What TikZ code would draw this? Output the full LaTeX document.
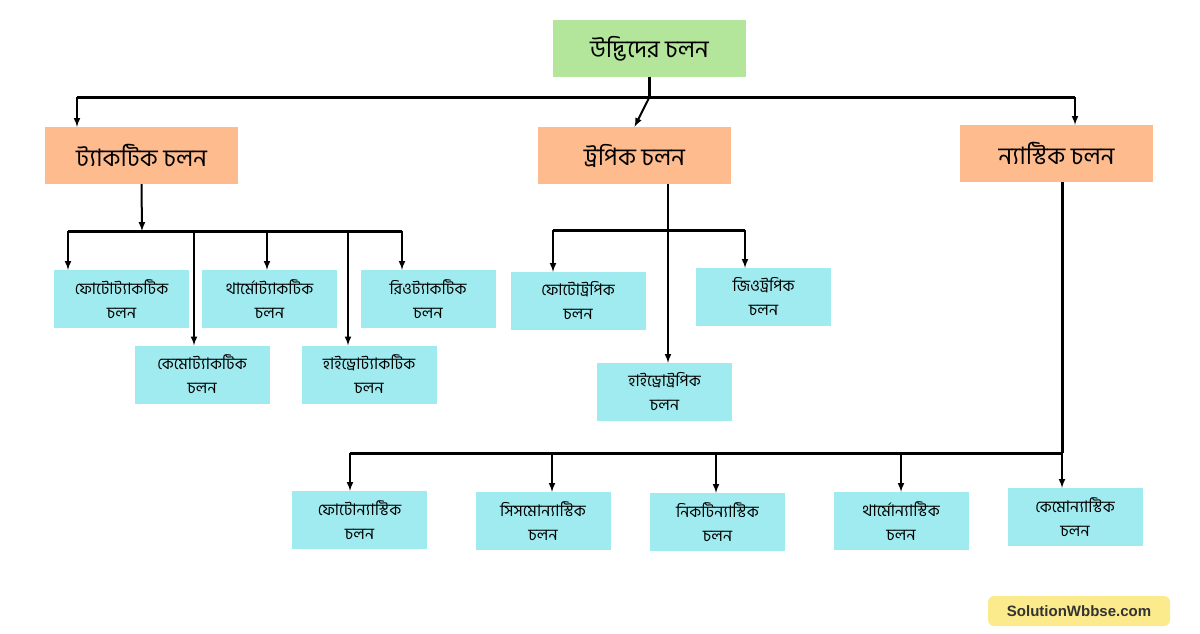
\documentclass[tikz,border=0pt]{standalone}
\usepackage{fontspec}
\newfontfamily\bn[Script=Bengali]{Hind Siliguri}
\setmainfont{Liberation Sans}
\usetikzlibrary{arrows, calc}

\definecolor{rootgreen}{HTML}{B3E59A}
\definecolor{peach}{HTML}{FDBB8E}
\definecolor{aqua}{HTML}{A0EBEF}
\definecolor{wmyellow}{HTML}{FBEB8C}

\tikzset{
  rootbox/.style={fill=rootgreen, minimum width=193pt, minimum height=57pt, font=\bn\fontsize{24}{28}\selectfont},
  kindbox/.style={fill=peach, minimum width=193pt, minimum height=57pt, font=\bn\fontsize{24}{28}\selectfont},
  leafbox/.style={fill=aqua, minimum width=135pt, minimum height=58pt, align=center, font=\bn\fontsize{16}{24}\selectfont},
  link/.style={line width=3pt},
  arr/.style={line width=2pt, -latex}
}

\begin{document}
\begin{tikzpicture}[x=1pt, y=-1pt]
    \useasboundingbox (0,0) rectangle (1200,633);

    % Root and main branches
    \node[rootbox] (root) at (649.5,48.5) {উদ্ভিদের চলন};
    \node[kindbox] (tac) at (141.5,155.5) {ট্যাকটিক চলন};
    \node[kindbox] (tro) at (634.5,155.5) {ট্রপিক চলন};
    \node[kindbox] (nas) at (1056.5,153.5) {ন্যাস্টিক চলন};

    \coordinate (bl) at (77,97);
    \coordinate (br) at (1075,97);
    \draw[link] (root.south) -- (649.5,97);
    \draw[link] (bl) -- (br);
    \draw[arr] (bl) -- (tac.north -| bl);
    \draw[arr] (649.5,97) -- (tro.north);
    \draw[arr] (br) -- (nas.north -| br);

    % Tactic
    \node[leafbox] (t1) at (121.5,299) {ফোটোট্যাকটিক\\চলন};
    \node[leafbox] (t2) at (269.5,299) {থার্মোট্যাকটিক\\চলন};
    \node[leafbox] (t3) at (428,299) {রিওট্যাকটিক\\চলন};
    \node[leafbox] (t4) at (202,374.5) {কেমোট্যাকটিক\\চলন};
    \node[leafbox] (t5) at (369,374.5) {হাইড্রোট্যাকটিক\\চলন};
    \coordinate (tj) at (142,231);
    \draw[arr] (tac.south) -- (tj);
    \draw[link] (68,231) -- (402,231);
    \foreach \x/\n in {68/t1, 267/t2, 402/t3, 194/t4, 348/t5}
        \draw[arr] (\x,231) -- (\n.north -| \x,0);

    % Tropic
    \node[leafbox] (r1) at (578,301) {ফোটোট্রপিক\\চলন};
    \node[leafbox] (r2) at (763.5,297) {জিওট্রপিক\\চলন};
    \node[leafbox] (r3) at (664.5,392) {হাইড্রোট্রপিক\\চলন};
    \draw[arr] (tro.south -| 668,0) -- (r3.north -| 668,0);
    \draw[link] (553,230) -- (745,230);
    \draw[arr] (553,230) -- (r1.north -| 553,0);
    \draw[arr] (745,230) -- (r2.north -| 745,0);

    % Nastic
    \node[leafbox] (n1) at (359.5,520) {ফোটোন্যাস্টিক\\চলন};
    \node[leafbox] (n2) at (543,521) {সিসমোন্যাস্টিক\\চলন};
    \node[leafbox] (n3) at (717.5,522) {নিকটিন্যাস্টিক\\চলন};
    \node[leafbox] (n4) at (901,521) {থার্মোন্যাস্টিক\\চলন};
    \node[leafbox] (n5) at (1075,517) {কেমোন্যাস্টিক\\চলন};
    \draw[link] (nas.south -| 1062,0) -- (1062,453);
    \draw[link] (350,453) -- (1062,453);
    \foreach \x/\n in {350/n1, 552/n2, 716/n3, 901/n4, 1062/n5}
        \draw[arr] (\x,453) -- (\n.north -| \x,0);

    % Watermark
    \node[fill=wmyellow, rounded corners=6pt, minimum width=182pt, minimum height=30pt,
          font=\bfseries\fontsize{15}{18}\selectfont, text=black!80] (wm) at (1079,611) {SolutionWbbse.com};
\end{tikzpicture}
\end{document}
